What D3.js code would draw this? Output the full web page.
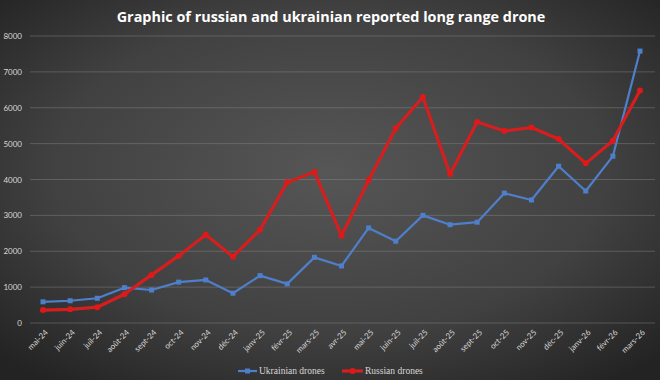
<!DOCTYPE html>
<html><head><meta charset="utf-8">
<script src="https://cdn.jsdelivr.net/npm/d3@7"></script>
<style>body{margin:0;background:#333;}svg{display:block;}</style>
</head><body>
<svg id="chart" width="660" height="380"></svg>
<script>
const categories = ["mai-24","juin-24","juil-24","août-24","sept-24","oct-24","nov-24","déc-24","janv-25","févr-25","mars-25","avr-25","mai-25","juin-25","juil-25","août-25","sept-25","oct-25","nov-25","déc-25","janv-26","févr-26","mars-26"];
const ukrainianDrones = [590,620,690,985,920,1140,1200,830,1320,1090,1830,1590,2650,2280,3000,2740,2810,3620,3430,4370,3680,4650,7580];
const russianDrones = [360,380,440,800,1340,1870,2460,1850,2600,3920,4210,2430,3980,5430,6300,4150,5600,5350,5450,5130,4450,5080,6480];
const yTicks = [0,1000,2000,3000,4000,5000,6000,7000,8000];
const title = "Graphic of russian and ukrainian reported long range drone";
const seriesNames = ["Ukrainian drones","Russian drones"];

const W = 660, H = 380;
const svg = d3.select("#chart");
const defs = svg.append("defs");
const rg = defs.append("radialGradient").attr("id","bg").attr("cx","50%").attr("cy","45%").attr("r","70%");
rg.append("stop").attr("offset","0%").attr("stop-color","#565656");
rg.append("stop").attr("offset","60%").attr("stop-color","#414141");
rg.append("stop").attr("offset","100%").attr("stop-color","#232323");
svg.append("rect").attr("width",W).attr("height",H).attr("fill","url(#bg)");

const x = d3.scalePoint().domain(categories).range([43,640]);
const y = d3.scaleLinear().domain([0,8000]).range([323,36]);

// grid
svg.append("g").selectAll("line").data(yTicks).join("line")
  .attr("x1",30).attr("x2",655)
  .attr("y1",d=>y(d)).attr("y2",d=>y(d))
  .attr("stroke","#8a8a8a").attr("stroke-opacity",0.55).attr("stroke-width",0.8);

// y axis
const yAxis = d3.axisLeft(y).tickValues(yTicks).tickSize(0).tickPadding(0).tickFormat(d3.format("d"));
const gy = svg.append("g").attr("transform","translate(22,0)").call(yAxis);
gy.select(".domain").remove();
gy.selectAll("text").attr("fill","#d8d8d8").style("font-family","Lato, sans-serif").style("font-size","8px");

// x axis
const xAxis = d3.axisBottom(x).tickSize(0).tickPadding(0);
const gx = svg.append("g").attr("transform","translate(0,331)").call(xAxis);
gx.select(".domain").remove();
gx.selectAll("text").attr("fill","#d8d8d8").style("font-family","Lato, sans-serif").style("font-size","8px")
  .attr("text-anchor","end").attr("dy","0.35em")
  .attr("transform","translate(3,0) rotate(-45)");

// lines
const line = d3.line().x((d,i)=>x(categories[i])).y(d=>y(d));
svg.append("path").datum(ukrainianDrones).attr("d",line)
  .attr("fill","none").attr("stroke","#4f7fcb").attr("stroke-width",2.2).attr("stroke-linejoin","round");
svg.append("g").selectAll("rect").data(ukrainianDrones).join("rect")
  .attr("x",(d,i)=>x(categories[i])-2.5).attr("y",d=>y(d)-2.5)
  .attr("width",5).attr("height",5).attr("fill","#4f7fcb");

svg.append("path").datum(russianDrones).attr("d",line)
  .attr("fill","none").attr("stroke","#d61e1e").attr("stroke-width",3.2).attr("stroke-linejoin","round");
svg.append("g").selectAll("circle").data(russianDrones).join("circle")
  .attr("cx",(d,i)=>x(categories[i])).attr("cy",d=>y(d)).attr("r",3)
  .attr("fill","#e01818");

// title
svg.append("text").attr("x",331).attr("y",22).attr("text-anchor","middle")
  .attr("fill","#ffffff").style("font-family","'Open Sans', sans-serif").style("font-weight","bold").style("font-size","14.4px")
  .text(title);

// legend
const lg = svg.append("g");
lg.append("line").attr("x1",238).attr("x2",257).attr("y1",371).attr("y2",371).attr("stroke","#4f7fcb").attr("stroke-width",2.2);
lg.append("rect").attr("x",245).attr("y",368.5).attr("width",5).attr("height",5).attr("fill","#4f7fcb");
lg.append("text").attr("x",259).attr("y",374).attr("fill","#d8d8d8")
  .style("font-family","'Liberation Serif', serif").style("font-size","9.5px").text(seriesNames[0]);
lg.append("line").attr("x1",342).attr("x2",363).attr("y1",371).attr("y2",371).attr("stroke","#d61e1e").attr("stroke-width",3.2);
lg.append("circle").attr("cx",352.5).attr("cy",371).attr("r",3).attr("fill","#e01818");
lg.append("text").attr("x",365).attr("y",374).attr("fill","#d8d8d8")
  .style("font-family","'Liberation Serif', serif").style("font-size","9.5px").text(seriesNames[1]);
</script>
</body></html>
